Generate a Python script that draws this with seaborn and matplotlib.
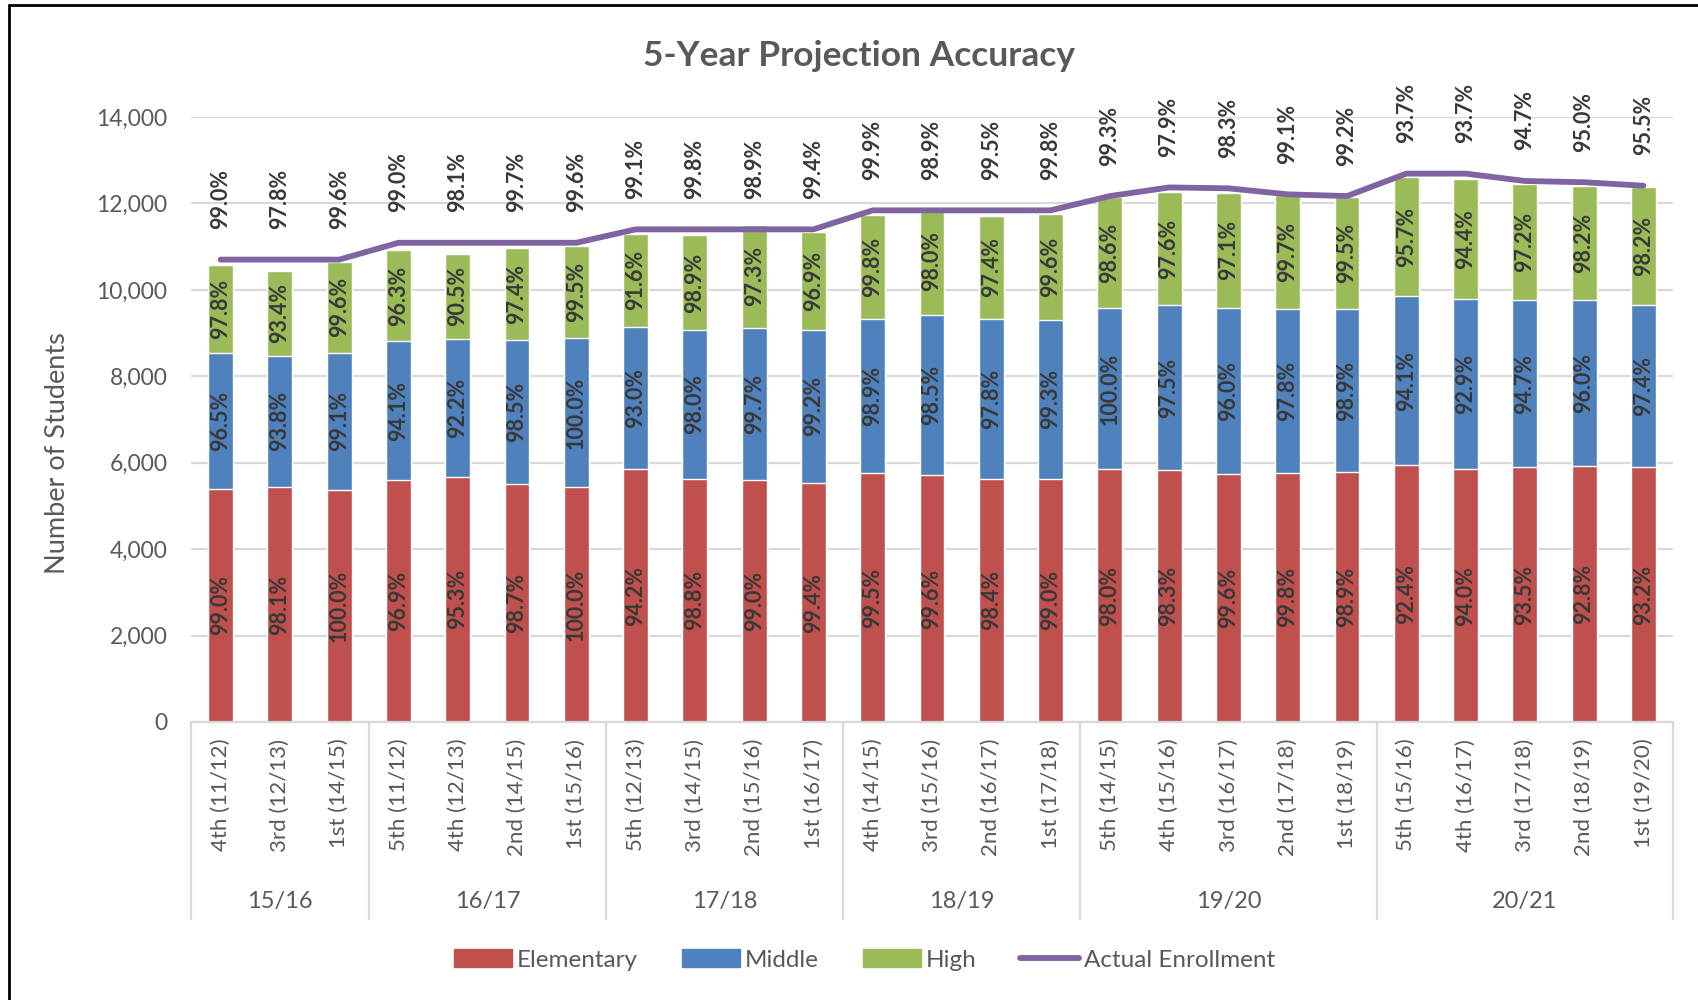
import numpy as np
import pandas as pd
import matplotlib
matplotlib.use('Agg')
import matplotlib.pyplot as plt
from matplotlib.lines import Line2D
from matplotlib.patches import Patch
import seaborn as sns

# ---- data ----
groups = ['15/16'] * 3 + ['16/17'] * 4 + ['17/18'] * 4 + ['18/19'] * 4 + ['19/20'] * 5 + ['20/21'] * 5
projections = ['4th (11/12)', '3rd (12/13)', '1st (14/15)',
               '5th (11/12)', '4th (12/13)', '2nd (14/15)', '1st (15/16)',
               '5th (12/13)', '3rd (14/15)', '2nd (15/16)', '1st (16/17)',
               '4th (14/15)', '3rd (15/16)', '2nd (16/17)', '1st (17/18)',
               '5th (14/15)', '4th (15/16)', '3rd (16/17)', '2nd (17/18)', '1st (18/19)',
               '5th (15/16)', '4th (16/17)', '3rd (17/18)', '2nd (18/19)', '1st (19/20)']

elementary = [5400, 5440, 5380, 5590, 5680, 5510, 5440, 5850, 5630, 5590, 5530, 5760, 5710,
              5630, 5630, 5850, 5820, 5730, 5770, 5790, 5940, 5850, 5900, 5920, 5890]
middle = [3130, 3040, 3170, 3220, 3180, 3340, 3440, 3300, 3450, 3530, 3550, 3570, 3700,
          3700, 3670, 3740, 3820, 3860, 3780, 3760, 3910, 3930, 3860, 3840, 3750]
high = [2040, 1950, 2090, 2120, 1980, 2110, 2130, 2140, 2180, 2390, 2260, 2410, 2500,
        2390, 2460, 2550, 2620, 2650, 2640, 2590, 2760, 2790, 2690, 2650, 2740]
actual = [10700, 10700, 10700, 11090, 11090, 11090, 11090, 11400, 11400, 11400, 11400, 11840, 11840,
          11840, 11840, 12170, 12370, 12350, 12210, 12170, 12690, 12690, 12520, 12490, 12410]

elem_acc = [99.0, 98.1, 100.0, 96.9, 95.3, 98.7, 100.0, 94.2, 98.8, 99.0, 99.4, 99.5, 99.6,
            98.4, 99.0, 98.0, 98.3, 99.6, 99.8, 98.9, 92.4, 94.0, 93.5, 92.8, 93.2]
mid_acc = [96.5, 93.8, 99.1, 94.1, 92.2, 98.5, 100.0, 93.0, 98.0, 99.7, 99.2, 98.9, 98.5,
           97.8, 99.3, 100.0, 97.5, 96.0, 97.8, 98.9, 94.1, 92.9, 94.7, 96.0, 97.4]
high_acc = [97.8, 93.4, 99.6, 96.3, 90.5, 97.4, 99.5, 91.6, 98.9, 97.3, 96.9, 99.8, 98.0,
            97.4, 99.6, 98.6, 97.6, 97.1, 99.7, 99.5, 95.7, 94.4, 97.2, 98.2, 98.2]
total_acc = [99.0, 97.8, 99.6, 99.0, 98.1, 99.7, 99.6, 99.1, 99.8, 98.9, 99.4, 99.9, 98.9,
             99.5, 99.8, 99.3, 97.9, 98.3, 99.1, 99.2, 93.7, 93.7, 94.7, 95.0, 95.5]

df = pd.DataFrame({'group': groups, 'projection': projections,
                   'Elementary': elementary, 'Middle': middle, 'High': high,
                   'Actual': actual})
df['key'] = df['group'] + '|' + df['projection']
df['top_mid'] = df['Elementary'] + df['Middle']
df['top_high'] = df['top_mid'] + df['High']

RED, BLUE, GREEN, PURPLE = '#C0504D', '#4F81BD', '#9BBB59', '#8064A2'
GREY_TXT, LBL_TXT, GRID = '#595959', '#383838', '#D9D9D9'

sns.set_theme(style='white')
plt.rcParams['font.family'] = ['Lato', 'DejaVu Sans']

fig = plt.figure(figsize=(16.98, 10), dpi=100)
ax = fig.add_axes([191 / 1698, 0.278, 1482 / 1698, 0.605])

# stacked bars: draw cumulative totals back to front
order = list(df['key'])
sns.barplot(data=df, x='key', y='top_high', order=order, color=GREEN, width=0.42,
            saturation=1, ax=ax, zorder=2)
sns.barplot(data=df, x='key', y='top_mid', order=order, color=BLUE, width=0.42,
            saturation=1, ax=ax, zorder=2)
sns.barplot(data=df, x='key', y='Elementary', order=order, color=RED, width=0.42,
            saturation=1, ax=ax, zorder=2)
sns.lineplot(data=df, x='key', y='Actual', sort=False, color=PURPLE, linewidth=4.2,
             ax=ax, zorder=3)

# data labels
lbl_kw = dict(rotation=90, ha='center', va='center', fontsize=15.5, fontweight='bold',
              color=LBL_TXT, zorder=4)
for i, r in df.iterrows():
    ax.text(i, r['Elementary'] / 2, f'{elem_acc[i]:.1f}%', **lbl_kw)
    ax.text(i, r['Elementary'] + r['Middle'] / 2, f'{mid_acc[i]:.1f}%', **lbl_kw)
    ax.text(i, r['top_mid'] + r['High'] / 2, f'{high_acc[i]:.1f}%', **lbl_kw)
    ax.annotate(f'{total_acc[i]:.1f}%', (i, r['Actual']), xytext=(0, 22),
                textcoords='offset points', rotation=90, ha='center', va='bottom',
                fontsize=15.5, fontweight='bold', color=LBL_TXT, zorder=4)

# axes styling
ax.set_xlim(-0.5, len(df) - 0.5)
ax.set_ylim(0, 14000)
ax.set_yticks(range(0, 14001, 2000))
ax.yaxis.set_major_formatter(matplotlib.ticker.FuncFormatter(lambda v, p: f'{int(v):,}'))
ax.grid(axis='y', color=GRID, linewidth=1.6, zorder=0)
ax.set_axisbelow(True)
for s in ['top', 'right', 'left']:
    ax.spines[s].set_visible(False)
ax.spines['bottom'].set_color(GRID)
ax.spines['bottom'].set_linewidth(1.6)
ax.tick_params(axis='y', length=0, pad=17, labelsize=16.5, labelcolor=GREY_TXT)
ax.tick_params(axis='x', length=0, pad=12, labelsize=16, labelcolor=GREY_TXT)
ax.set_xticks(range(len(df)))
ax.set_xticklabels(df['projection'], rotation=90, va='top')
ax.set_xlabel('')
ax.set_ylabel('Number of Students', fontsize=19.5, color=GREY_TXT)
ax.yaxis.set_label_coords(-0.0816, 0.445)

# second level of the category axis: separators and school year labels
trans = matplotlib.transforms.blended_transform_factory(ax.transData, ax.transAxes)
sizes = df.groupby('group', sort=False).size()
start = 0
edges = [-0.5]
for g, n in sizes.items():
    ax.text(start + (n - 1) / 2, -0.2975, g, transform=trans, ha='center', va='center',
            fontsize=17, color=GREY_TXT)
    start += n
    edges.append(start - 0.5)
for e in edges:
    ax.plot([e, e], [0, -0.326], transform=trans, color=GRID, linewidth=1.6, clip_on=False)

fig.text(0.506, 0.944, '5-Year Projection Accuracy', ha='center', va='center',
         fontsize=25.5, fontweight='bold', color=GREY_TXT)

handles = [Patch(color=RED), Patch(color=BLUE), Patch(color=GREEN),
           Line2D([], [], color=PURPLE, linewidth=4.2)]
fig.legend(handles, ['Elementary', 'Middle', 'High', 'Actual Enrollment'], loc='center',
           bbox_to_anchor=(0.509, 0.04), ncol=4, frameon=False, fontsize=17.5,
           labelcolor=GREY_TXT, handlelength=2.4, handletextpad=0.2, columnspacing=1.8)

# frame of the original screenshot (top and left edges)
fig.add_artist(Line2D([0.0055, 0.0055], [0, 0.995], color='black', linewidth=2))
fig.add_artist(Line2D([0.0055, 1], [0.995, 0.995], color='black', linewidth=2))

fig.savefig('out.png', dpi=100)
